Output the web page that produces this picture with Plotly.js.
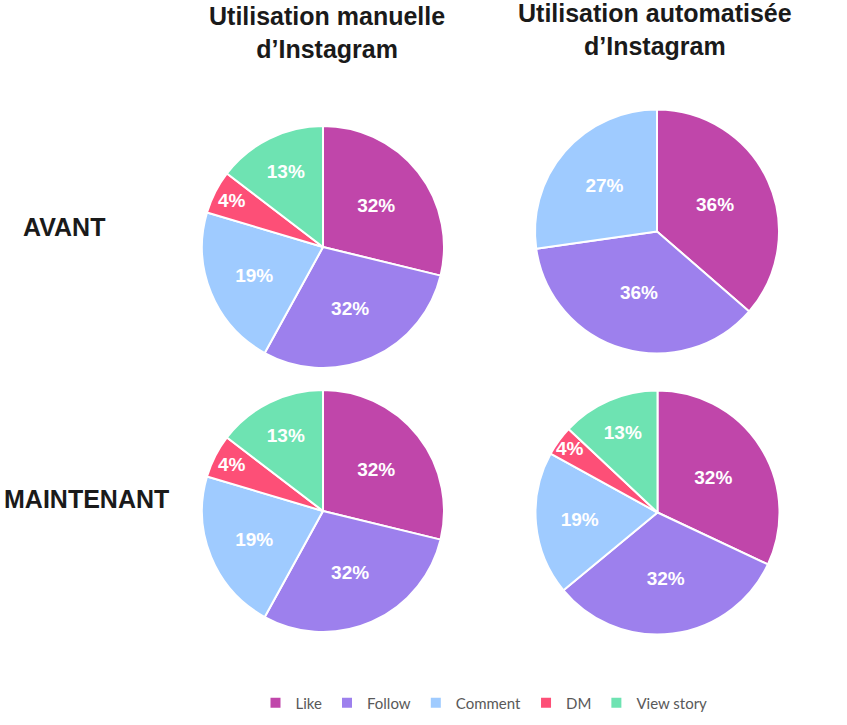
<!DOCTYPE html>
<html>
<head>
<meta charset="utf-8">
<script src="https://cdn.plot.ly/plotly-3.0.1.min.js"></script>
<style>html,body{margin:0;padding:0;background:#fff;}#chart{width:847px;height:725px;}</style>
</head>
<body>
<div id="chart"></div>
<script>
// Categories
const categories = ['Like', 'Follow', 'Comment', 'DM', 'View story'];
const categoriesAuto = ['Like', 'Follow', 'Comment'];

// Slice sizes (share of the circle)
const manuelAvant = [28.8, 29.2, 21.6, 5.8, 14.6];
const autoAvant = [36, 36, 27];
const manuelMaintenant = [28.8, 29.2, 21.6, 5.8, 14.6];
const autoMaintenant = [32, 32, 19, 4, 13];

// Percentage labels printed on the slices
const labelsManuelAvant = ['32%', '32%', '19%', '4%', '13%'];
const labelsAutoAvant = ['36%', '36%', '27%'];
const labelsManuelMaintenant = ['32%', '32%', '19%', '4%', '13%'];
const labelsAutoMaintenant = ['32%', '32%', '19%', '4%', '13%'];

// Titles
const columnTitles = ['Utilisation manuelle<br>d’Instagram', 'Utilisation automatisée<br>d’Instagram'];
const rowTitles = ['AVANT', 'MAINTENANT'];

const colorMap = {
  'Like': '#c046aa',
  'Follow': '#9d80ed',
  'Comment': '#9fcbff',
  'DM': '#fd4f77',
  'View story': '#6ee3b2'
};

const W = 847, H = 725;
function dom(cx, cy, r) {
  return {
    x: [(cx - r) / W, (cx + r) / W],
    y: [(H - cy - r) / H, (H - cy + r) / H]
  };
}

const boldFont = 'Liberation Sans, Arial, Helvetica, sans-serif';

function pie(labels, values, text, domain, showlegend) {
  return {
    type: 'pie',
    labels: labels,
    values: values,
    text: text,
    textinfo: 'text',
    texttemplate: '%{text}',
    textposition: 'inside',
    insidetextorientation: 'horizontal',
    insidetextfont: {family: boldFont, size: 19, color: '#ffffff', weight: 700},
    sort: false,
    direction: 'clockwise',
    rotation: 0,
    domain: domain,
    marker: {colors: labels.map(l => colorMap[l]), line: {color: '#ffffff', width: 2}},
    showlegend: showlegend,
    hoverinfo: 'skip'
  };
}

const data = [
  pie(categories, manuelAvant, labelsManuelAvant, dom(323, 247, 121), true),
  pie(categoriesAuto, autoAvant, labelsAutoAvant, dom(657, 231.5, 122), false),
  pie(categories, manuelMaintenant, labelsManuelMaintenant, dom(323, 511, 121), false),
  pie(categories, autoMaintenant, labelsAutoMaintenant, dom(657.5, 512.5, 122), false)
];

const titleFont = {family: boldFont, size: 25, color: '#1a1a1a', weight: 700};
const rowFont = {family: boldFont, size: 25, color: '#1a1a1a', weight: 700};
const annotations = [
  {text: columnTitles[0], x: 327 / W, y: 1, xref: 'paper', yref: 'paper', xanchor: 'center', yanchor: 'top', showarrow: false, font: titleFont},
  {text: columnTitles[1], x: 655 / W, y: 1 + 3 / H, xref: 'paper', yref: 'paper', xanchor: 'center', yanchor: 'top', showarrow: false, font: titleFont},
  {text: rowTitles[0], x: 64 / W, y: 1 - 227 / H, xref: 'paper', yref: 'paper', xanchor: 'center', yanchor: 'middle', showarrow: false, font: rowFont},
  {text: rowTitles[1], x: 86 / W, y: 1 - 499 / H, xref: 'paper', yref: 'paper', xanchor: 'center', yanchor: 'middle', showarrow: false, font: rowFont}
];

const layout = {
  width: W,
  height: H,
  margin: {l: 0, r: 0, t: 0, b: 0},
  paper_bgcolor: '#ffffff',
  plot_bgcolor: '#ffffff',
  showlegend: true,
  legend: {
    orientation: 'h',
    x: 484 / W,
    xanchor: 'center',
    y: 1 - 703 / H,
    yanchor: 'middle',
    font: {family: 'Lato, Open Sans, sans-serif', size: 15, color: '#595959'},
    traceorder: 'normal',
    itemclick: false,
    itemdoubleclick: false
  },
  uniformtext: {minsize: 19, mode: 'show'},
  annotations: annotations,
  hovermode: false
};

Plotly.newPlot('chart', data, layout, {displayModeBar: false, staticPlot: true});
</script>
</body>
</html>
